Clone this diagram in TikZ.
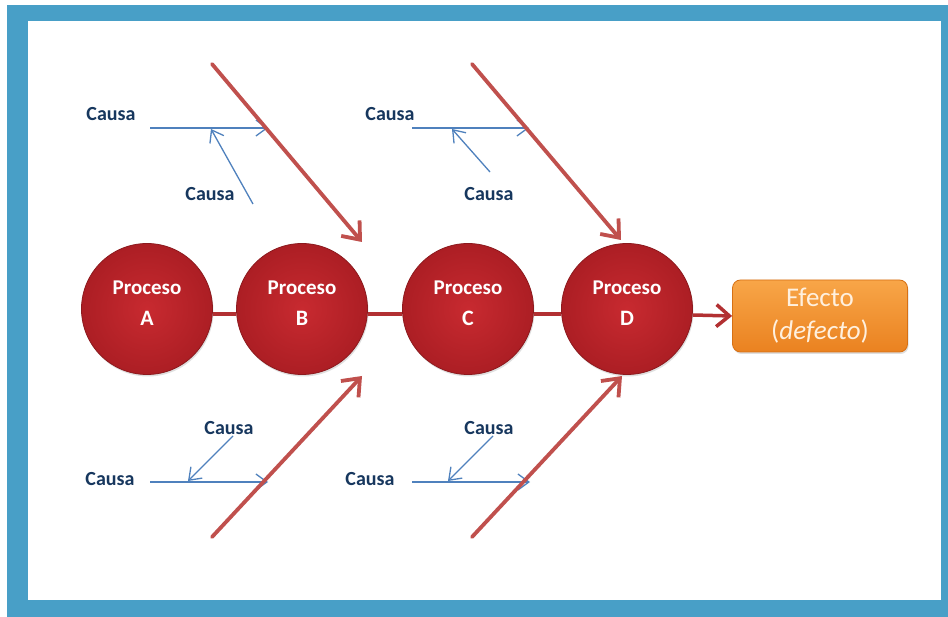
\documentclass[tikz,border=0pt]{standalone}
\usepackage{fontspec}
\setmainfont{Carlito}
\usetikzlibrary{arrows.meta,shadows}

\definecolor{frameblue}{RGB}{72,159,199}
\definecolor{causeblue}{RGB}{79,129,189}
\definecolor{causetext}{RGB}{23,55,94}
\definecolor{bonered}{RGB}{192,80,77}
\definecolor{ballin}{RGB}{200,42,48}
\definecolor{ballout}{RGB}{172,30,36}
\definecolor{balledge}{RGB}{140,26,30}
\definecolor{linkred}{RGB}{178,48,50}
\definecolor{efftop}{RGB}{248,166,72}
\definecolor{effbot}{RGB}{234,130,32}
\definecolor{effedge}{RGB}{214,112,20}
\definecolor{efftext}{RGB}{255,240,222}

\begin{document}
\begin{tikzpicture}[x=1pt,y=-1pt,
  ball/.style={circle, minimum size=131pt, inner sep=0pt,
    inner color=ballin, outer color=ballout, draw=balledge, line width=0.8pt,
    drop shadow={opacity=0.25, shadow xshift=1pt, shadow yshift=-2pt},
    text=white, align=center,
    font=\bfseries\fontsize{21}{31}\selectfont},
  effect/.style={rectangle, rounded corners=8pt, minimum width=175pt,
    minimum height=72pt, inner sep=0pt,
    top color=efftop, bottom color=effbot, draw=effedge, line width=0.8pt,
    drop shadow={opacity=0.25, shadow xshift=1pt, shadow yshift=-2pt},
    text=efftext, align=center, font=\fontsize{27}{33}\selectfont},
  causa/.style={text=causetext, inner sep=0pt,
    font=\bfseries\fontsize{20}{21}\selectfont},
  bone/.style={draw=bonered, line width=3.8pt, line cap=round,
    -{Straight Barb[length=15pt,width=24pt,line width=3.8pt]}},
  twig/.style={draw=causeblue, line width=1.3pt,
    -{Straight Barb[length=11pt,width=16pt,line width=1.3pt]}},
  link/.style={draw=linkred, line width=4pt}
]
\useasboundingbox (0,0) rectangle (948,617);

% frame
\fill[frameblue] (7,5) rectangle (948,617);
\fill[white] (28,21) rectangle (941,600);

% process chain and effect
\node[ball] (pA) at (147,309) {Proceso\\{\fontsize{22}{22}\selectfont A}\rule[-11pt]{0pt}{0pt}};
\node[ball] (pB) at (302,309) {Proceso\\{\fontsize{22}{22}\selectfont B}\rule[-11pt]{0pt}{0pt}};
\node[ball] (pC) at (468,309) {Proceso\\{\fontsize{22}{22}\selectfont C}\rule[-11pt]{0pt}{0pt}};
\node[ball] (pD) at (627,309) {Proceso\\{\fontsize{22}{22}\selectfont D}\rule[-11pt]{0pt}{0pt}};
\node[effect] (eff) at (820,316) {Efecto\\(\textit{defecto})};

\draw[link] ([yshift=-5pt]pA.east) -- ([yshift=-5pt]pB.west);
\draw[link] ([yshift=-5pt]pB.east) -- ([yshift=-5pt]pC.west);
\draw[link] ([yshift=-5pt]pC.east) -- ([yshift=-5pt]pD.west);
\draw[link, line width=3.5pt, -{Straight Barb[length=13pt,width=22pt,line width=3.5pt]}]
  ([yshift=-6pt]pD.east) -- (eff.west);

% main bones
\coordinate (tlS) at (212,64);  \coordinate (tlE) at (362,242);
\coordinate (trS) at (472,64);  \coordinate (trE) at (621,240);
\coordinate (blS) at (212,537); \coordinate (blE) at (362,376);
\coordinate (brS) at (472,537); \coordinate (brE) at (622,376);

% cause twigs
\node[causa] (c1) at (111,114) {Causa};
\node[causa] (c2) at (210,194) {Causa};
\node[causa] (c3) at (390,114) {Causa};
\node[causa] (c4) at (489,194) {Causa};
\node[causa] (c5) at (229,428) {Causa};
\node[causa] (c6) at (110,479) {Causa};
\node[causa] (c7) at (489,428) {Causa};
\node[causa] (c8) at (370,479) {Causa};

\coordinate (h1s) at (150,128); \coordinate (h1e) at (268,128);
\coordinate (d1s) at (253,204); \coordinate (d1e) at (211,129);
\coordinate (h2s) at (412,128); \coordinate (h2e) at (529,128);
\coordinate (d2s) at (490,172); \coordinate (d2e) at (452,129);
\coordinate (h3s) at (150,482); \coordinate (h3e) at (268,482);
\coordinate (d3s) at (233,436); \coordinate (d3e) at (188,481);
\coordinate (h4s) at (412,482); \coordinate (h4e) at (530,482);
\coordinate (d4s) at (493,436); \coordinate (d4e) at (448,481);

\draw[twig] (h1s) -- (h1e);
\draw[twig] (d1s) -- (d1e);
\draw[twig] (h2s) -- (h2e);
\draw[twig] (d2s) -- (d2e);
\draw[twig] (h3s) -- (h3e);
\draw[twig] (d3s) -- (d3e);
\draw[twig] (h4s) -- (h4e);
\draw[twig] (d4s) -- (d4e);

\draw[bone] (tlS) -- (tlE);
\draw[bone] (trS) -- (trE);
\draw[bone] (blS) -- (blE);
\draw[bone] (brS) -- (brE);
\end{tikzpicture}
\end{document}
